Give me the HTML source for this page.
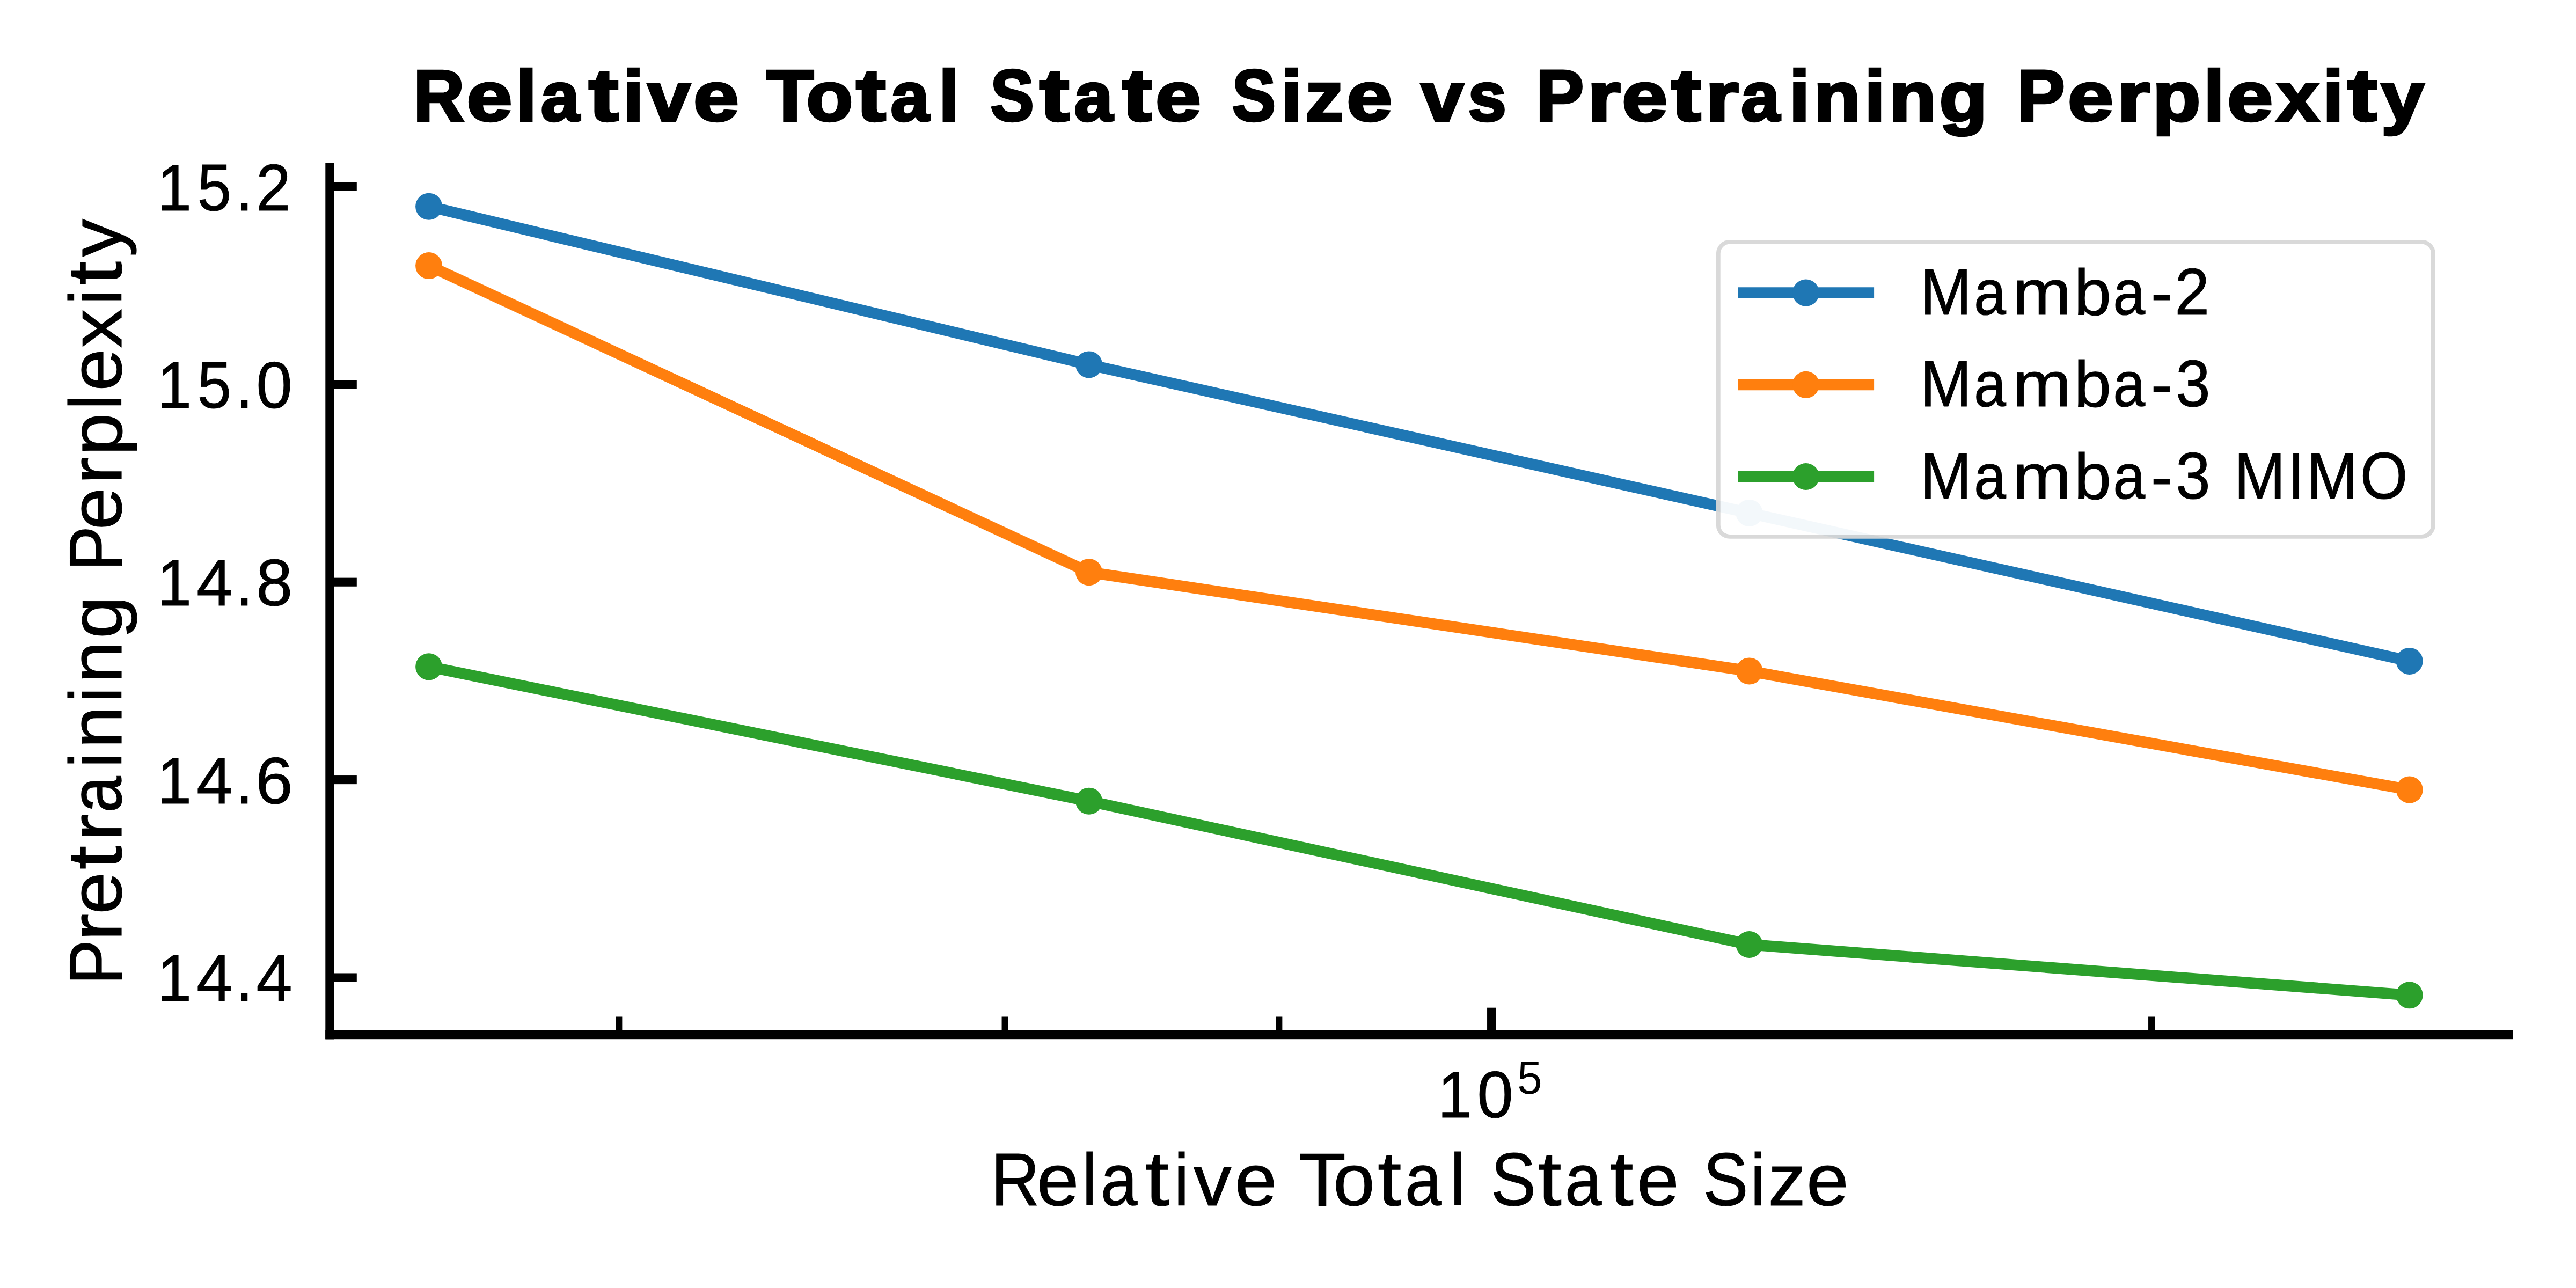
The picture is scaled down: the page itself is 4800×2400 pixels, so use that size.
<!DOCTYPE html>
<html><head><meta charset="utf-8"><title>Relative Total State Size vs Pretraining Perplexity</title><style>html,body{margin:0;padding:0;background:#fff;overflow:hidden}svg{display:block}text{font-family:"Liberation Sans",sans-serif;font-size:116.67px;fill:#000}</style></head><body>
<svg width="4800" height="2400" viewBox="0 0 4800 2400">
<rect x="0" y="0" width="4800" height="2400" fill="#fff"/>
<g id="series">
<polyline points="799.1,384.7 2029.1,679.4 3259.5,955.9 4489.7,1231.9" fill="none" stroke="#1f77b4" stroke-width="20.83" stroke-linejoin="round" stroke-linecap="round"/>
<circle cx="799.1" cy="384.7" r="25.0" fill="#1f77b4"/>
<circle cx="2029.1" cy="679.4" r="25.0" fill="#1f77b4"/>
<circle cx="3259.5" cy="955.9" r="25.0" fill="#1f77b4"/>
<circle cx="4489.7" cy="1231.9" r="25.0" fill="#1f77b4"/>
<polyline points="799.1,495.1 2029.1,1066.2 3259.5,1250.4 4489.7,1471.6" fill="none" stroke="#ff7f0e" stroke-width="20.83" stroke-linejoin="round" stroke-linecap="round"/>
<circle cx="799.1" cy="495.1" r="25.0" fill="#ff7f0e"/>
<circle cx="2029.1" cy="1066.2" r="25.0" fill="#ff7f0e"/>
<circle cx="3259.5" cy="1250.4" r="25.0" fill="#ff7f0e"/>
<circle cx="4489.7" cy="1471.6" r="25.0" fill="#ff7f0e"/>
<polyline points="799.1,1242.3 2029.1,1492.7 3259.5,1760.0 4489.7,1854.3" fill="none" stroke="#2ca02c" stroke-width="20.83" stroke-linejoin="round" stroke-linecap="round"/>
<circle cx="799.1" cy="1242.3" r="25.0" fill="#2ca02c"/>
<circle cx="2029.1" cy="1492.7" r="25.0" fill="#2ca02c"/>
<circle cx="3259.5" cy="1760.0" r="25.0" fill="#2ca02c"/>
<circle cx="4489.7" cy="1854.3" r="25.0" fill="#2ca02c"/>
</g>
<g id="axes" fill="#000">
<rect x="606.3" y="303.1" width="16.7" height="1633.3"/>
<rect x="606.3" y="1919.7" width="4075.8" height="16.5"/>
<rect x="623" y="339.85" width="41.8" height="16.1"/>
<rect x="623" y="708.25" width="41.8" height="16.1"/>
<rect x="623" y="1076.65" width="41.8" height="16.1"/>
<rect x="623" y="1445.05" width="41.8" height="16.1"/>
<rect x="623" y="1813.45" width="41.8" height="16.1"/>
<rect x="2771.05" y="1877.7" width="16.55" height="42.1"/>
<rect x="1147.05" y="1894.5" width="12.3" height="25.3"/>
<rect x="1866.55" y="1894.5" width="12.3" height="25.3"/>
<rect x="2377.05" y="1894.5" width="12.3" height="25.3"/>
<rect x="4003.05" y="1894.5" width="12.3" height="25.3"/>
</g>
<g id="legend">
<g opacity="0.95"><rect x="3201.8" y="450.95" width="1332.1" height="548.95" rx="21.5" ry="21.5" fill="#fff" stroke="#d7d7d7" stroke-width="7.8"/></g>
<line x1="3238" y1="545.6" x2="3492.1" y2="545.6" stroke="#1f77b4" stroke-width="20.83"/>
<circle cx="3365" cy="545.6" r="25.0" fill="#1f77b4"/>
<line x1="3238" y1="716.8" x2="3492.1" y2="716.8" stroke="#ff7f0e" stroke-width="20.83"/>
<circle cx="3365" cy="716.8" r="25.0" fill="#ff7f0e"/>
<line x1="3238" y1="888.0" x2="3492.1" y2="888.0" stroke="#2ca02c" stroke-width="20.83"/>
<circle cx="3365" cy="888.0" r="25.0" fill="#2ca02c"/>
<text transform="translate(3575.70 586.20)" y="0" stroke="#000" stroke-width="1.2"><tspan x="2.65" font-size="121.88" textLength="95.41" lengthAdjust="spacingAndGlyphs">M</tspan><tspan x="102.50" font-size="119.20" textLength="59.66" lengthAdjust="spacingAndGlyphs">a</tspan><tspan x="174.63" font-size="119.20" textLength="109.30" lengthAdjust="spacingAndGlyphs">m</tspan><tspan x="288.99" font-size="120.67" textLength="69.11" lengthAdjust="spacingAndGlyphs">b</tspan><tspan x="361.70" font-size="119.20" textLength="59.66" lengthAdjust="spacingAndGlyphs">a</tspan><tspan x="432.27" font-size="116.28" textLength="40.24" lengthAdjust="spacingAndGlyphs">-</tspan><tspan x="476.76" font-size="122.29" textLength="64.46" lengthAdjust="spacingAndGlyphs">2</tspan></text>
<text transform="translate(3575.70 757.40)" y="0" stroke="#000" stroke-width="1.2"><tspan x="2.65" font-size="121.88" textLength="95.41" lengthAdjust="spacingAndGlyphs">M</tspan><tspan x="102.50" font-size="119.20" textLength="59.66" lengthAdjust="spacingAndGlyphs">a</tspan><tspan x="174.63" font-size="119.20" textLength="109.30" lengthAdjust="spacingAndGlyphs">m</tspan><tspan x="288.99" font-size="120.67" textLength="69.11" lengthAdjust="spacingAndGlyphs">b</tspan><tspan x="361.70" font-size="119.20" textLength="59.66" lengthAdjust="spacingAndGlyphs">a</tspan><tspan x="432.27" font-size="116.28" textLength="40.24" lengthAdjust="spacingAndGlyphs">-</tspan><tspan x="478.53" font-size="122.29" textLength="64.28" lengthAdjust="spacingAndGlyphs">3</tspan></text>
<text transform="translate(3575.70 928.60)" y="0" stroke="#000" stroke-width="1.2"><tspan x="2.65" font-size="121.88" textLength="95.41" lengthAdjust="spacingAndGlyphs">M</tspan><tspan x="102.50" font-size="119.20" textLength="59.66" lengthAdjust="spacingAndGlyphs">a</tspan><tspan x="174.63" font-size="119.20" textLength="109.30" lengthAdjust="spacingAndGlyphs">m</tspan><tspan x="288.99" font-size="120.67" textLength="69.11" lengthAdjust="spacingAndGlyphs">b</tspan><tspan x="361.70" font-size="119.20" textLength="59.66" lengthAdjust="spacingAndGlyphs">a</tspan><tspan x="432.27" font-size="116.28" textLength="40.24" lengthAdjust="spacingAndGlyphs">-</tspan><tspan x="478.53" font-size="122.29" textLength="64.28" lengthAdjust="spacingAndGlyphs">3</tspan> <tspan x="587.41" font-size="121.88" textLength="95.41" lengthAdjust="spacingAndGlyphs">M</tspan><tspan x="687.27" font-size="121.88" textLength="30.71" lengthAdjust="spacingAndGlyphs">I</tspan><tspan x="722.48" font-size="121.88" textLength="95.41" lengthAdjust="spacingAndGlyphs">M</tspan><tspan x="822.26" font-size="122.29" textLength="88.34" lengthAdjust="spacingAndGlyphs">O</tspan></text>
</g>
<g id="title">
<text transform="translate(764.86 224.95)" y="0" font-weight="bold" stroke="#000" stroke-width="4.5"><tspan x="5.72" font-size="134.74" textLength="94.72" lengthAdjust="spacingAndGlyphs">R</tspan><tspan x="104.68" font-size="130.42" textLength="84.94" lengthAdjust="spacingAndGlyphs">e</tspan><tspan x="196.98" font-size="133.59" textLength="38.08" lengthAdjust="spacingAndGlyphs">l</tspan><tspan x="242.98" font-size="130.42" textLength="72.24" lengthAdjust="spacingAndGlyphs">a</tspan><tspan x="332.24" font-size="136.61" textLength="55.50" lengthAdjust="spacingAndGlyphs">t</tspan><tspan x="396.39" font-size="133.59" textLength="38.08" lengthAdjust="spacingAndGlyphs">i</tspan><tspan x="441.93" font-size="129.50" textLength="79.63" lengthAdjust="spacingAndGlyphs">v</tspan><tspan x="527.14" font-size="130.42" textLength="84.94" lengthAdjust="spacingAndGlyphs">e</tspan> <tspan x="663.26" font-size="134.74" textLength="88.26" lengthAdjust="spacingAndGlyphs">T</tspan><tspan x="737.65" font-size="130.42" textLength="86.74" lengthAdjust="spacingAndGlyphs">o</tspan><tspan x="830.29" font-size="136.61" textLength="55.50" lengthAdjust="spacingAndGlyphs">t</tspan><tspan x="894.73" font-size="130.42" textLength="72.24" lengthAdjust="spacingAndGlyphs">a</tspan><tspan x="984.41" font-size="133.59" textLength="38.08" lengthAdjust="spacingAndGlyphs">l</tspan> <tspan x="1080.59" font-size="135.28" textLength="81.21" lengthAdjust="spacingAndGlyphs">S</tspan><tspan x="1172.15" font-size="136.61" textLength="55.50" lengthAdjust="spacingAndGlyphs">t</tspan><tspan x="1236.60" font-size="130.42" textLength="72.24" lengthAdjust="spacingAndGlyphs">a</tspan><tspan x="1325.86" font-size="136.61" textLength="55.50" lengthAdjust="spacingAndGlyphs">t</tspan><tspan x="1388.15" font-size="130.42" textLength="84.94" lengthAdjust="spacingAndGlyphs">e</tspan> <tspan x="1530.92" font-size="135.28" textLength="81.21" lengthAdjust="spacingAndGlyphs">S</tspan><tspan x="1622.89" font-size="133.59" textLength="38.08" lengthAdjust="spacingAndGlyphs">i</tspan><tspan x="1667.22" font-size="129.50" textLength="71.65" lengthAdjust="spacingAndGlyphs">z</tspan><tspan x="1744.33" font-size="130.42" textLength="84.94" lengthAdjust="spacingAndGlyphs">e</tspan> <tspan x="1882.88" font-size="129.50" textLength="79.63" lengthAdjust="spacingAndGlyphs">v</tspan><tspan x="1970.72" font-size="130.30" textLength="71.43" lengthAdjust="spacingAndGlyphs">s</tspan> <tspan x="2097.43" font-size="134.74" textLength="89.00" lengthAdjust="spacingAndGlyphs">P</tspan><tspan x="2192.90" font-size="130.30" textLength="61.86" lengthAdjust="spacingAndGlyphs">r</tspan><tspan x="2257.35" font-size="130.42" textLength="84.94" lengthAdjust="spacingAndGlyphs">e</tspan><tspan x="2349.23" font-size="136.61" textLength="55.50" lengthAdjust="spacingAndGlyphs">t</tspan><tspan x="2412.82" font-size="130.30" textLength="61.86" lengthAdjust="spacingAndGlyphs">r</tspan><tspan x="2479.43" font-size="130.42" textLength="72.24" lengthAdjust="spacingAndGlyphs">a</tspan><tspan x="2569.11" font-size="133.59" textLength="38.08" lengthAdjust="spacingAndGlyphs">i</tspan><tspan x="2614.99" font-size="130.30" textLength="87.04" lengthAdjust="spacingAndGlyphs">n</tspan><tspan x="2709.74" font-size="133.59" textLength="38.08" lengthAdjust="spacingAndGlyphs">i</tspan><tspan x="2755.62" font-size="130.30" textLength="87.04" lengthAdjust="spacingAndGlyphs">n</tspan><tspan x="2848.71" font-size="130.06" textLength="89.58" lengthAdjust="spacingAndGlyphs">g</tspan> <tspan x="2993.91" font-size="134.74" textLength="89.00" lengthAdjust="spacingAndGlyphs">P</tspan><tspan x="3088.08" font-size="130.42" textLength="84.94" lengthAdjust="spacingAndGlyphs">e</tspan><tspan x="3179.81" font-size="130.30" textLength="61.86" lengthAdjust="spacingAndGlyphs">r</tspan><tspan x="3246.05" font-size="130.06" textLength="89.41" lengthAdjust="spacingAndGlyphs">p</tspan><tspan x="3341.57" font-size="133.59" textLength="38.08" lengthAdjust="spacingAndGlyphs">l</tspan><tspan x="3385.41" font-size="130.42" textLength="84.94" lengthAdjust="spacingAndGlyphs">e</tspan><tspan x="3477.12" font-size="129.50" textLength="79.49" lengthAdjust="spacingAndGlyphs">x</tspan><tspan x="3563.71" font-size="133.59" textLength="38.08" lengthAdjust="spacingAndGlyphs">i</tspan><tspan x="3609.00" font-size="136.61" textLength="55.50" lengthAdjust="spacingAndGlyphs">t</tspan><tspan x="3672.02" font-size="129.50" textLength="80.28" lengthAdjust="spacingAndGlyphs">y</tspan></text>
</g>
<g id="yticklabels">
<text transform="translate(288.38 391.60)" y="0" stroke="#000" stroke-width="1.2"><tspan x="4.68" font-size="121.88" textLength="63.78" lengthAdjust="spacingAndGlyphs">1</tspan><tspan x="79.28" font-size="121.88" textLength="63.14" lengthAdjust="spacingAndGlyphs">5</tspan><tspan x="151.15" font-size="124.09" textLength="31.57" lengthAdjust="spacingAndGlyphs">.</tspan><tspan x="188.85" font-size="122.29" textLength="64.46" lengthAdjust="spacingAndGlyphs">2</tspan></text>
<text transform="translate(288.38 760.00)" y="0" stroke="#000" stroke-width="1.2"><tspan x="4.68" font-size="121.88" textLength="63.78" lengthAdjust="spacingAndGlyphs">1</tspan><tspan x="79.28" font-size="121.88" textLength="63.14" lengthAdjust="spacingAndGlyphs">5</tspan><tspan x="151.15" font-size="124.09" textLength="31.57" lengthAdjust="spacingAndGlyphs">.</tspan><tspan x="189.12" font-size="122.29" textLength="67.00" lengthAdjust="spacingAndGlyphs">0</tspan></text>
<text transform="translate(288.38 1128.40)" y="0" stroke="#000" stroke-width="1.2"><tspan x="4.68" font-size="121.88" textLength="63.78" lengthAdjust="spacingAndGlyphs">1</tspan><tspan x="77.76" font-size="121.88" textLength="67.08" lengthAdjust="spacingAndGlyphs">4</tspan><tspan x="151.15" font-size="124.09" textLength="31.57" lengthAdjust="spacingAndGlyphs">.</tspan><tspan x="188.77" font-size="122.29" textLength="67.72" lengthAdjust="spacingAndGlyphs">8</tspan></text>
<text transform="translate(288.38 1496.80)" y="0" stroke="#000" stroke-width="1.2"><tspan x="4.68" font-size="121.88" textLength="63.78" lengthAdjust="spacingAndGlyphs">1</tspan><tspan x="77.76" font-size="121.88" textLength="67.08" lengthAdjust="spacingAndGlyphs">4</tspan><tspan x="151.15" font-size="124.09" textLength="31.57" lengthAdjust="spacingAndGlyphs">.</tspan><tspan x="187.95" font-size="122.29" textLength="69.34" lengthAdjust="spacingAndGlyphs">6</tspan></text>
<text transform="translate(288.38 1865.20)" y="0" stroke="#000" stroke-width="1.2"><tspan x="4.68" font-size="121.88" textLength="63.78" lengthAdjust="spacingAndGlyphs">1</tspan><tspan x="77.76" font-size="121.88" textLength="67.08" lengthAdjust="spacingAndGlyphs">4</tspan><tspan x="151.15" font-size="124.09" textLength="31.57" lengthAdjust="spacingAndGlyphs">.</tspan><tspan x="189.07" font-size="121.88" textLength="67.08" lengthAdjust="spacingAndGlyphs">4</tspan></text>
</g>
<g id="ylabel">
<text transform="translate(226.40 1835.69) rotate(-90)" y="0" stroke="#000" stroke-width="1.2"><tspan x="0.74" font-size="139.54" textLength="83.76" lengthAdjust="spacingAndGlyphs">P</tspan><tspan x="82.25" font-size="136.55" textLength="50.93" lengthAdjust="spacingAndGlyphs">r</tspan><tspan x="131.90" font-size="136.55" textLength="78.67" lengthAdjust="spacingAndGlyphs">e</tspan><tspan x="215.45" font-size="142.96" textLength="44.48" lengthAdjust="spacingAndGlyphs">t</tspan><tspan x="268.45" font-size="136.55" textLength="50.93" lengthAdjust="spacingAndGlyphs">r</tspan><tspan x="321.09" font-size="136.55" textLength="68.35" lengthAdjust="spacingAndGlyphs">a</tspan><tspan x="405.56" font-size="138.15" textLength="27.62" lengthAdjust="spacingAndGlyphs">i</tspan><tspan x="441.18" font-size="136.55" textLength="78.38" lengthAdjust="spacingAndGlyphs">n</tspan><tspan x="527.10" font-size="138.15" textLength="27.62" lengthAdjust="spacingAndGlyphs">i</tspan><tspan x="562.73" font-size="136.55" textLength="78.38" lengthAdjust="spacingAndGlyphs">n</tspan><tspan x="645.86" font-size="136.92" textLength="79.11" lengthAdjust="spacingAndGlyphs">g</tspan> <tspan x="771.64" font-size="139.54" textLength="83.76" lengthAdjust="spacingAndGlyphs">P</tspan><tspan x="848.50" font-size="136.55" textLength="78.67" lengthAdjust="spacingAndGlyphs">e</tspan><tspan x="932.77" font-size="136.55" textLength="50.93" lengthAdjust="spacingAndGlyphs">r</tspan><tspan x="986.93" font-size="136.67" textLength="79.19" lengthAdjust="spacingAndGlyphs">p</tspan><tspan x="1072.75" font-size="138.15" textLength="27.62" lengthAdjust="spacingAndGlyphs">l</tspan><tspan x="1107.03" font-size="136.55" textLength="78.67" lengthAdjust="spacingAndGlyphs">e</tspan><tspan x="1187.57" font-size="135.74" textLength="72.70" lengthAdjust="spacingAndGlyphs">x</tspan><tspan x="1268.45" font-size="138.15" textLength="27.62" lengthAdjust="spacingAndGlyphs">i</tspan><tspan x="1304.18" font-size="142.96" textLength="44.48" lengthAdjust="spacingAndGlyphs">t</tspan><tspan x="1357.22" font-size="135.74" textLength="70.38" lengthAdjust="spacingAndGlyphs">y</tspan></text>
</g>
<g id="xticklabels">
<text transform="translate(2674.58 2082.10)" y="0" stroke="#000" stroke-width="1.2"><tspan x="4.68" font-size="121.88" textLength="63.78" lengthAdjust="spacingAndGlyphs">1</tspan><tspan x="77.81" font-size="122.29" textLength="67.00" lengthAdjust="spacingAndGlyphs">0</tspan></text>
<text y="0" transform="translate(0 2038.35)"><tspan x="2827.36" font-size="87.28" textLength="46.33" lengthAdjust="spacingAndGlyphs">5</tspan></text>
</g>
<g id="xlabel">
<text transform="translate(1843.21 2245.80)" y="0" stroke="#000" stroke-width="1.2"><tspan x="3.36" font-size="139.54" textLength="90.69" lengthAdjust="spacingAndGlyphs">R</tspan><tspan x="88.60" font-size="136.55" textLength="78.67" lengthAdjust="spacingAndGlyphs">e</tspan><tspan x="173.40" font-size="138.15" textLength="27.62" lengthAdjust="spacingAndGlyphs">l</tspan><tspan x="207.75" font-size="136.55" textLength="68.35" lengthAdjust="spacingAndGlyphs">a</tspan><tspan x="290.90" font-size="142.96" textLength="44.48" lengthAdjust="spacingAndGlyphs">t</tspan><tspan x="344.49" font-size="138.15" textLength="27.62" lengthAdjust="spacingAndGlyphs">i</tspan><tspan x="380.85" font-size="135.74" textLength="70.73" lengthAdjust="spacingAndGlyphs">v</tspan><tspan x="457.61" font-size="136.55" textLength="78.67" lengthAdjust="spacingAndGlyphs">e</tspan> <tspan x="577.07" font-size="139.54" textLength="87.53" lengthAdjust="spacingAndGlyphs">T</tspan><tspan x="640.98" font-size="136.55" textLength="77.42" lengthAdjust="spacingAndGlyphs">o</tspan><tspan x="723.91" font-size="142.96" textLength="44.48" lengthAdjust="spacingAndGlyphs">t</tspan><tspan x="774.74" font-size="136.55" textLength="68.35" lengthAdjust="spacingAndGlyphs">a</tspan><tspan x="859.14" font-size="138.15" textLength="27.62" lengthAdjust="spacingAndGlyphs">l</tspan> <tspan x="934.86" font-size="140.01" textLength="84.04" lengthAdjust="spacingAndGlyphs">S</tspan><tspan x="1021.96" font-size="142.96" textLength="44.48" lengthAdjust="spacingAndGlyphs">t</tspan><tspan x="1072.79" font-size="136.55" textLength="68.35" lengthAdjust="spacingAndGlyphs">a</tspan><tspan x="1155.94" font-size="142.96" textLength="44.48" lengthAdjust="spacingAndGlyphs">t</tspan><tspan x="1206.70" font-size="136.55" textLength="78.67" lengthAdjust="spacingAndGlyphs">e</tspan> <tspan x="1330.18" font-size="140.01" textLength="84.04" lengthAdjust="spacingAndGlyphs">S</tspan><tspan x="1418.58" font-size="138.15" textLength="27.62" lengthAdjust="spacingAndGlyphs">i</tspan><tspan x="1451.50" font-size="135.74" textLength="69.97" lengthAdjust="spacingAndGlyphs">z</tspan><tspan x="1522.78" font-size="136.55" textLength="78.67" lengthAdjust="spacingAndGlyphs">e</tspan></text>
</g>
</svg></body></html>
